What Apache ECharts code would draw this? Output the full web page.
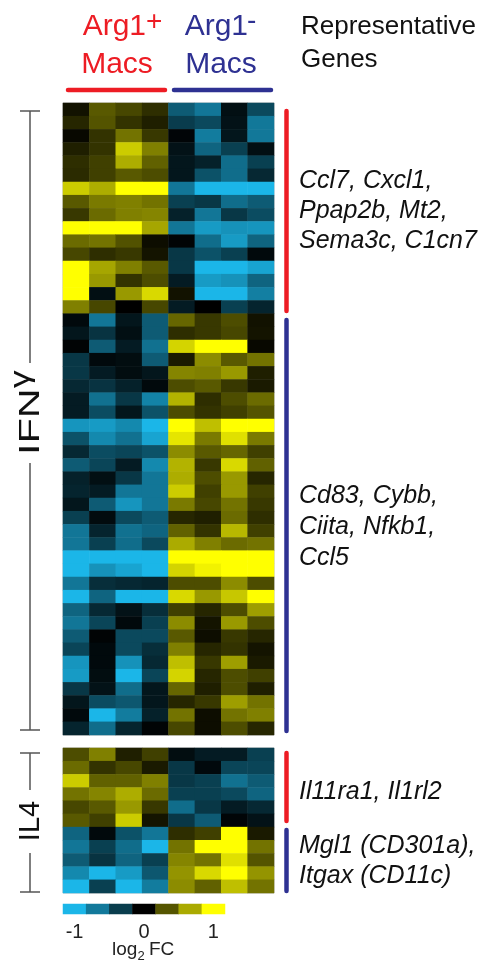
<!DOCTYPE html>
<html>
<head>
<meta charset="utf-8">
<script src="https://cdn.jsdelivr.net/npm/echarts@6/dist/echarts.min.js"></script>
<style>
html,body{margin:0;padding:0;background:#fff;}
#chart{width:489px;height:965px;}
</style>
</head>
<body>
<div id="chart"></div>
<script>
// Columns: 4 Arg1+ samples, 4 Arg1- samples
const columns = ['P1','P2','P3','P4','N1','N2','N3','N4'];

// IFNγ genes up in Arg1+ (16 rows), log2 FC per column
const ifngUp = [
  [0.07,0.35,0.28,0.18,-0.5,-0.65,-0.08,-0.4],
  [0.15,0.33,0.2,0.12,-0.33,-0.4,-0.1,-0.66],
  [0.03,0.2,0.45,0.22,-0.03,-0.68,-0.12,-0.66],
  [0.12,0.2,0.8,0.5,-0.1,-0.55,-0.35,-0.08],
  [0.18,0.25,0.68,0.38,-0.12,-0.18,-0.6,-0.35],
  [0.17,0.25,0.35,0.3,-0.12,-0.45,-0.6,-0.22],
  [0.8,0.68,1.0,1.0,-0.65,-1.0,-1.0,-1.0],
  [0.35,0.48,0.5,0.45,-0.35,-0.3,-0.6,-0.5],
  [0.22,0.42,0.5,0.52,-0.18,-0.65,-0.3,-0.42],
  [1.0,1.0,1.0,0.65,-0.65,-0.85,-0.8,-0.82],
  [0.42,0.45,0.32,0.05,-0.02,-0.6,-0.85,-0.55],
  [0.28,0.18,0.22,0.08,-0.3,-0.45,-0.35,-0.05],
  [1.0,0.65,0.5,0.35,-0.3,-1.0,-1.0,-0.9],
  [1.0,0.6,0.2,0.3,-0.15,-0.85,-0.8,-0.55],
  [1.0,-0.08,0.6,0.85,0.07,-1.0,-1.0,-0.7],
  [0.5,0.28,0.0,0.28,-0.15,0.0,-0.35,-0.2]
];

// IFNγ genes up in Arg1- (32 rows)
const ifngDown = [
  [-0.05,-0.65,-0.12,-0.5,0.4,0.22,0.3,0.07],
  [-0.12,-0.28,-0.08,-0.5,0.18,0.22,0.28,0.08],
  [-0.02,-0.5,-0.15,-0.62,0.83,1.0,1.0,0.03],
  [-0.3,-0.05,-0.07,-0.5,0.1,0.55,0.35,0.45],
  [-0.3,-0.15,-0.07,-0.12,0.52,0.5,0.6,0.12],
  [-0.22,-0.28,-0.18,-0.05,0.3,0.35,0.22,0.1],
  [-0.15,-0.62,-0.3,-0.72,0.7,0.18,0.3,0.42],
  [-0.15,-0.42,-0.12,-0.45,0.3,0.2,0.25,0.33],
  [-0.82,-0.85,-0.75,-1.0,1.0,0.75,1.0,1.0],
  [-0.45,-0.75,-0.62,-0.9,0.9,0.48,0.88,0.48],
  [-0.22,-0.42,-0.38,-0.45,0.55,0.35,0.4,0.25],
  [-0.5,-0.38,-0.15,-0.75,0.7,0.22,0.85,0.38],
  [-0.18,-0.08,-0.3,-0.65,0.68,0.3,0.6,0.15],
  [-0.2,-0.15,-0.65,-0.65,0.8,0.25,0.6,0.25],
  [-0.12,-0.5,-0.82,-0.65,0.48,0.28,0.45,0.22],
  [-0.35,-0.06,-0.4,-0.5,0.15,0.12,0.42,0.18],
  [-0.65,-0.2,-0.62,-0.55,0.38,0.2,0.72,0.25],
  [-0.65,-0.35,-0.6,-0.4,0.67,0.5,0.42,0.45],
  [-1.0,-1.0,-1.0,-1.0,1.0,1.0,1.0,1.0],
  [-1.0,-0.8,-0.9,-1.0,0.83,0.95,1.0,1.0],
  [-0.65,-0.25,-0.22,-0.2,0.3,0.3,0.55,0.3],
  [-1.0,-0.55,-1.0,-1.0,0.85,0.6,0.78,1.0],
  [-0.55,-0.22,-0.1,-0.25,0.25,0.15,0.3,0.62],
  [-0.65,-0.38,-0.05,-0.35,0.55,0.08,0.6,0.3],
  [-0.5,-0.02,-0.4,-0.4,0.35,0.05,0.22,0.15],
  [-0.38,-0.05,-0.4,-0.25,0.5,0.15,0.2,0.08],
  [-0.82,-0.05,-0.8,-0.22,0.75,0.22,0.62,0.1],
  [-0.85,-0.07,-1.0,-0.38,0.83,0.15,0.3,0.25],
  [-0.3,-0.1,-0.6,-0.12,0.4,0.12,0.3,0.12],
  [-0.12,-0.42,-0.48,-0.12,0.15,0.22,0.62,0.45],
  [-0.05,-1.0,-0.68,-0.18,0.45,0.05,0.45,0.5],
  [-0.2,-0.6,-0.2,-0.02,0.28,0.05,0.3,0.15]
];

// IL4 genes up in Arg1+ (6 rows)
const il4Up = [
  [0.3,0.5,0.12,0.25,-0.07,-0.15,-0.15,-0.35],
  [0.42,0.2,0.28,0.1,-0.3,-0.05,-0.38,-0.38],
  [0.8,0.38,0.38,0.5,-0.3,-0.35,-0.62,-0.5],
  [0.45,0.52,0.68,0.42,-0.35,-0.35,-0.4,-0.55],
  [0.28,0.35,0.6,0.22,-0.6,-0.3,-0.15,-0.22],
  [0.35,0.25,0.8,0.08,-0.3,-0.5,-0.03,-0.1]
];

// IL4 genes up in Arg1- (5 rows)
const il4Down = [
  [-0.55,-0.05,-0.45,-0.65,0.18,0.25,1.0,0.1],
  [-0.65,-0.35,-0.6,-1.0,0.45,1.0,1.0,0.45],
  [-0.5,-0.28,-0.55,-0.35,0.52,0.45,0.88,0.33],
  [-0.75,-1.0,-0.85,-0.48,0.58,0.85,1.0,0.58],
  [-1.0,-0.35,-1.0,-0.68,0.55,0.38,0.75,0.45]
];

// Colour key
const keySteps = [-1, -2/3, -1/3, 0, 1/3, 2/3, 1];
const keyTickLabels = ['-1', '', '', '0', '', '', '1'];

const upGenes = ['Ccl7, Cxcl1,', 'Ppap2b, Mt2,', 'Sema3c, C1cn7'];
const downGenes = ['Cd83, Cybb,', 'Ciita, Nfkb1,', 'Ccl5'];
const il4UpGenes = ['Il11ra1, Il1rl2'];
const il4DownGenes = ['Mgl1 (CD301a),', 'Itgax (CD11c)'];

const RED = '#ED1C24', BLUE = '#2E3192', GRAY = '#555555';
const FONT = '"Liberation Sans", Arial, Helvetica, sans-serif';

function toCells(rows) {
  const out = [];
  rows.forEach((r, ri) => r.forEach((v, ci) => out.push([ci, ri, v])));
  return out;
}
const ifngRows = ifngUp.concat(ifngDown);
const il4Rows = il4Up.concat(il4Down);
const rowIdx = n => Array.from({length: n}, (_, i) => 'r' + i);

const chart = echarts.init(document.getElementById('chart'), null, {renderer: 'canvas'});

function txt(x, y, text, size, color, align, extra) {
  const style = {
    text: text, fill: color, font: (extra && extra.italic ? 'italic ' : '') + size + 'px ' + FONT,
    align: align || 'left', textAlign: align || 'left',
    verticalAlign: 'middle', textVerticalAlign: 'middle'
  };
  const el = {type: 'text', x: x, y: y, style: style};
  if (extra && extra.rotation) el.rotation = extra.rotation;
  if (extra && extra.scaleX) el.scaleX = extra.scaleX;
  return el;
}
function line(x1, y1, x2, y2, color, w, cap) {
  return {type: 'line', shape: {x1: x1, y1: y1, x2: x2, y2: y2},
          style: {stroke: color, lineWidth: w, lineCap: cap || 'butt'}};
}

const gfx = [];
// Headers
gfx.push(txt(146, 27, 'Arg1', 30, RED, 'right'));
gfx.push(txt(146, 22, '+', 28, RED, 'left'));
gfx.push(txt(117, 65, 'Macs', 30, RED, 'center'));
gfx.push(txt(248, 27, 'Arg1', 30, BLUE, 'right'));
gfx.push(txt(247, 21, '-', 28, BLUE, 'left'));
gfx.push(txt(221, 65, 'Macs', 30, BLUE, 'center'));
gfx.push(txt(301, 27, 'Representative', 26, '#111', 'left'));
gfx.push(txt(301, 60, 'Genes', 26, '#111', 'left'));
gfx.push(line(68, 90, 165, 90, RED, 4.5, 'round'));
gfx.push(line(174, 90, 271, 90, BLUE, 4.5, 'round'));

// Left brackets
gfx.push(line(30, 111, 30, 363, GRAY, 1.5));
gfx.push(line(30, 463, 30, 730, GRAY, 1.5));
gfx.push(line(20, 111, 40, 111, GRAY, 1.5));
gfx.push(line(20, 730, 40, 730, GRAY, 1.5));
gfx.push(line(30, 753, 30, 790, GRAY, 1.5));
gfx.push(line(30, 853, 30, 892, GRAY, 1.5));
gfx.push(line(20, 753, 40, 753, GRAY, 1.5));
gfx.push(line(20, 892, 40, 892, GRAY, 1.5));
gfx.push(txt(31, 455, 'IFN', 30, '#111', 'left', {rotation: Math.PI / 2, scaleX: 1.38}));
gfx.push(txt(22, 388, 'γ', 27, '#111', 'left', {rotation: Math.PI / 2, scaleX: 1.3}));
gfx.push(txt(31, 821, 'IL4', 29, '#111', 'center', {rotation: Math.PI / 2}));

// Right bars
gfx.push(line(286.5, 111, 286.5, 311, RED, 4.5, 'round'));
gfx.push(line(286.5, 320, 286.5, 731, BLUE, 4.5, 'round'));
gfx.push(line(286.5, 753, 286.5, 821, RED, 4.5, 'round'));
gfx.push(line(286.5, 830, 286.5, 891, BLUE, 4.5, 'round'));

// Gene labels
const G = 25;
upGenes.forEach((g, i) => gfx.push(txt(299, 181 + i * 30, g, G, '#111', 'left', {italic: true})));
downGenes.forEach((g, i) => gfx.push(txt(299, 496 + i * 31, g, G, '#111', 'left', {italic: true})));
il4UpGenes.forEach((g, i) => gfx.push(txt(299, 792 + i * 30, g, G, '#111', 'left', {italic: true})));
il4DownGenes.forEach((g, i) => gfx.push(txt(299, 846 + i * 30, g, G, '#111', 'left', {italic: true})));

// log2 FC
gfx.push(txt(112, 950, 'log', 19, '#222', 'left'));
gfx.push(txt(137.5, 956, '2', 13, '#222', 'left'));
gfx.push(txt(149, 950, 'FC', 19, '#222', 'left'));

const hiddenCat = (data, gi, inverse) => ({
  type: 'category', data: data, gridIndex: gi, inverse: !!inverse,
  axisLine: {show: false}, axisTick: {show: false}, axisLabel: {show: false}, splitLine: {show: false}
});

const option = {
  backgroundColor: '#ffffff',
  animation: false,
  grid: [
    {left: 63, top: 103, width: 211, height: 632, show: true, borderColor: '#bbbbbb', borderWidth: 1},
    {left: 63, top: 748, width: 211, height: 145, show: true, borderColor: '#bbbbbb', borderWidth: 1},
    {left: 63, top: 904, width: 162, height: 10}
  ],
  xAxis: [
    hiddenCat(columns, 0),
    hiddenCat(columns, 1),
    {
      type: 'category', data: keyTickLabels.map((l, i) => i), gridIndex: 2,
      axisLine: {show: false}, axisTick: {show: false}, splitLine: {show: false},
      axisLabel: {show: true, interval: 0, margin: 8, color: '#222', fontSize: 20, fontFamily: FONT,
                  formatter: (v, i) => keyTickLabels[i]}
    }
  ],
  yAxis: [
    hiddenCat(rowIdx(ifngRows.length), 0, true),
    hiddenCat(rowIdx(il4Rows.length), 1, true),
    hiddenCat(['k'], 2)
  ],
  visualMap: {
    type: 'continuous', min: -1, max: 1, show: false, seriesIndex: [0, 1, 2],
    inRange: {color: ['#1BB6E8', '#000000', '#FFFF00']}
  },
  series: [
    {type: 'heatmap', xAxisIndex: 0, yAxisIndex: 0, data: toCells(ifngRows), itemStyle: {borderWidth: 0}},
    {type: 'heatmap', xAxisIndex: 1, yAxisIndex: 1, data: toCells(il4Rows), itemStyle: {borderWidth: 0}},
    {type: 'heatmap', xAxisIndex: 2, yAxisIndex: 2, data: keySteps.map((v, i) => [i, 0, v]), itemStyle: {borderWidth: 0}}
  ],
  graphic: {elements: gfx}
};
chart.setOption(option);
</script>
</body>
</html>
